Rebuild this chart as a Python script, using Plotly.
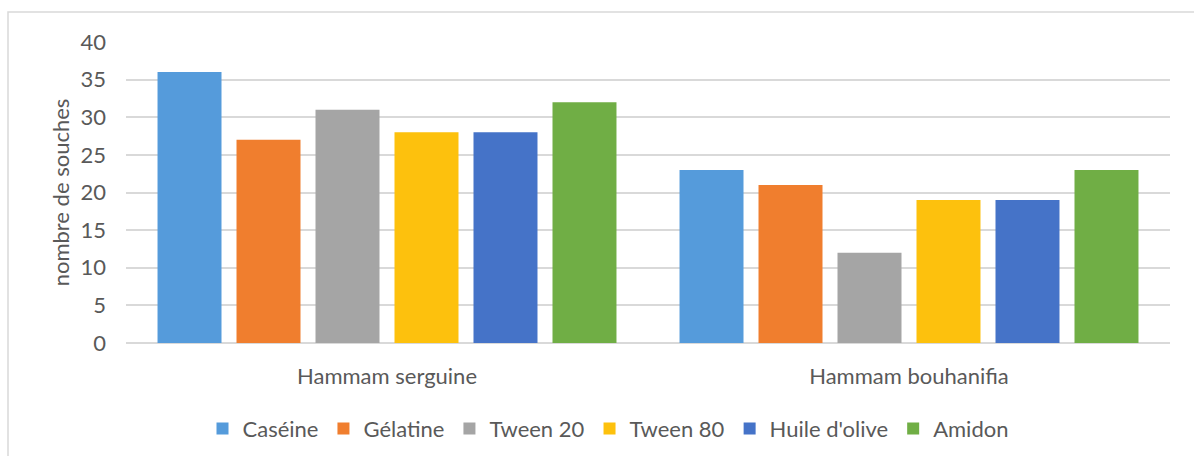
import plotly.graph_objects as go

categories = ["Hammam serguine", "Hammam bouhanifia"]
series_names = ["Caséine", "Gélatine", "Tween 20", "Tween 80", "Huile d'olive", "Amidon"]
caseine = [36, 23]
gelatine = [27, 21]
tween20 = [31, 12]
tween80 = [28, 19]
huile = [28, 19]
amidon = [32, 23]
y_ticks = [0, 5, 10, 15, 20, 25, 30, 35, 40]

values = [caseine, gelatine, tween20, tween80, huile, amidon]
colors = ["#559BDB", "#F07E2E", "#A5A5A5", "#FDC10D", "#4573C8", "#70AE45"]

FONT = "Lato, Open Sans, sans-serif"
TXT = "#595959"

fig = go.Figure()
for name, vals, col in zip(series_names, values, colors):
    fig.add_trace(go.Bar(
        name=name, x=categories, y=vals,
        marker=dict(color=col, line=dict(width=0)),
    ))

W, H = 1194, 456
L, R, T, B = 126, 24, 42, 113
pw = W - L - R
ph = H - T - B

fig.update_layout(
    width=W, height=H,
    margin=dict(l=L, r=R, t=T, b=B, autoexpand=False),
    paper_bgcolor="white", plot_bgcolor="white",
    barmode="group", bargap=0.092, bargroupgap=0.19,
    font=dict(family=FONT, color=TXT, size=22),
    showlegend=True,
    legend=dict(orientation="h", x=(608 - L) / pw, xanchor="center", y=-0.215, yanchor="top",
                font=dict(size=22, color=TXT), itemwidth=30,
                traceorder="normal"),
    xaxis=dict(showgrid=False, showline=False, ticks="", ticklabelstandoff=18,
               tickfont=dict(size=22, color=TXT)),
    yaxis=dict(range=[0, 40], tickvals=y_ticks, showgrid=True, gridcolor="#D9D9D9",
               gridwidth=1.5, zeroline=True, zerolinecolor="#D9D9D9", zerolinewidth=1.5,
               showline=False, ticks="", ticklabelstandoff=19,
               tickfont=dict(size=22, color=TXT),
               title=dict(text="nombre de souches", font=dict(size=22, color=TXT),
                          standoff=4)),
    shapes=[dict(type="rect", xref="paper", yref="paper",
                 x0=(8 - L) / pw, x1=(W + 10 - L) / pw,
                 y0=(T + ph - (H + 10)) / ph, y1=(T + ph - 12) / ph,
                 line=dict(color="#D9D9D9", width=1.5), fillcolor="rgba(0,0,0,0)",
                 layer="below")],
)

fig.write_html("out.html")
